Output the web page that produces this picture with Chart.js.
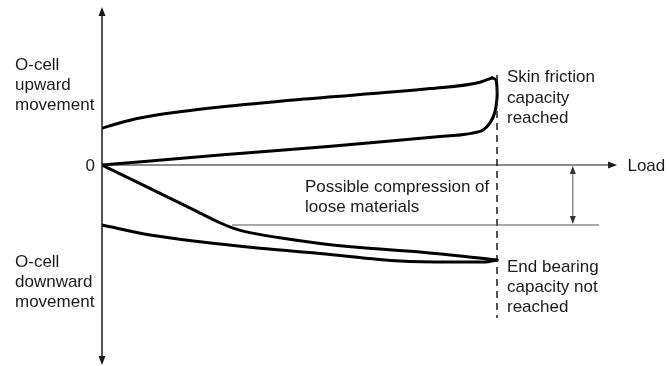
<!DOCTYPE html>
<html>
<head>
<meta charset="utf-8">
<script src="https://cdn.jsdelivr.net/npm/chart.js@4"></script>
<style>
  body { margin: 0; background: #fff; }
  canvas { display: block; }
</style>
</head>
<body>
<canvas id="chart" width="669" height="366"></canvas>
<script>
// Skin friction curve (load, upward movement)
// upper branch, the turn at capacity, and the branch back to the origin
const skinUpLoad = [0, 4.6, 9.6, 19.7, 29.9, 50, 83, 95.7, 98.7];
const skinUpMove = [9.2, 10.55, 11.75, 13.3, 14.5, 16.4, 19.1, 20.7, 21.8];
const skinTurnLoad = [98.7, 99.7, 100, 100, 99.4, 98.2, 96.5, 93.5, 90.6];
const skinTurnMove = [21.8, 21.3, 19, 16.75, 13, 10.5, 8.75, 7.9, 7.5];
const skinDownLoad = [0, 29.9, 58, 85.6, 90.6];
const skinDownMove = [0, 2.5, 4.7, 7.1, 7.5];

// End bearing curve with compression of loose materials
const compLoad = [0, 12, 24, 30, 33, 36, 45, 55.2, 65.3, 80.5, 100];
const compMove = [0, -5.8, -11.6, -14.5, -15.7, -16.6, -18.2, -19.6, -20.6, -21.75, -23.75];

// Lower end bearing curve
const endLoad = [0, 12.2, 24.8, 40, 55.2, 75.5, 88, 97, 100];
const endMove = [-15, -17.5, -19.2, -20.8, -22.1, -24, -24.25, -24.25, -23.75];

// Capacity line and compression marker
const capacityLoad = 100;
const compressionLevel = -15;

const toPoints = (xs, ys) => xs.map((x, i) => ({ x: x, y: ys[i] }));

const FONT = "17px 'Liberation Sans', Arial, sans-serif";
const INK = "#1a1a1a";

// Axes, arrows, dashed line and the texts
const annotations = {
  id: "annotations",
  afterDatasetsDraw(chart) {
    const { ctx, scales } = chart;
    const X = (v) => scales.x.getPixelForValue(v);
    const Y = (v) => scales.y.getPixelForValue(v);

    const arrowHead = (x, y, dir, len, half) => {
      ctx.beginPath();
      if (dir === "up") { ctx.moveTo(x, y); ctx.lineTo(x - half, y + len); ctx.lineTo(x + half, y + len); }
      if (dir === "down") { ctx.moveTo(x, y); ctx.lineTo(x - half, y - len); ctx.lineTo(x + half, y - len); }
      if (dir === "right") { ctx.moveTo(x, y); ctx.lineTo(x - len, y - half); ctx.lineTo(x - len, y + half); }
      ctx.closePath();
      ctx.fill();
    };

    ctx.save();
    ctx.strokeStyle = INK;
    ctx.fillStyle = INK;

    // vertical axis with arrows both ends
    ctx.lineWidth = 1.5;
    ctx.beginPath();
    ctx.moveTo(X(0), Y(39));
    ctx.lineTo(X(0), Y(-49.5));
    ctx.stroke();
    arrowHead(X(0), Y(39.5), "up", 9, 3.5);
    arrowHead(X(0), Y(-50), "down", 9, 3.5);

    // load axis
    ctx.lineWidth = 1.2;
    ctx.beginPath();
    ctx.moveTo(X(0), Y(0));
    ctx.lineTo(X(129.5), Y(0));
    ctx.stroke();
    arrowHead(X(130.4), Y(0), "right", 9, 3.5);

    // dashed capacity line
    ctx.lineWidth = 1.5;
    ctx.setLineDash([7, 5]);
    ctx.beginPath();
    ctx.moveTo(X(capacityLoad), Y(22.5));
    ctx.lineTo(X(capacityLoad), Y(-38.25));
    ctx.stroke();
    ctx.setLineDash([]);

    // compression level line and double arrow
    ctx.strokeStyle = "#555";
    ctx.fillStyle = "#333";
    ctx.lineWidth = 1;
    ctx.beginPath();
    ctx.moveTo(X(32.9), Y(compressionLevel));
    ctx.lineTo(X(125.8), Y(compressionLevel));
    ctx.stroke();
    ctx.beginPath();
    ctx.moveTo(X(119.2), Y(-1.5));
    ctx.lineTo(X(119.2), Y(compressionLevel + 1.5));
    ctx.stroke();
    arrowHead(X(119.2), Y(0) + 1, "up", 8, 3);
    arrowHead(X(119.2), Y(compressionLevel) - 1, "down", 8, 3);

    // texts
    ctx.fillStyle = INK;
    ctx.font = FONT;
    ctx.textAlign = "left";
    ctx.textBaseline = "alphabetic";
    const lines = (arr, x, y0, step) => arr.forEach((t, i) => ctx.fillText(t, x, y0 + i * step));
    lines(["O-cell", "upward", "movement"], 15, 70, 20);
    lines(["O-cell", "downward", "movement"], 15, 267, 20);
    lines(["Skin friction", "capacity", "reached"], X(capacityLoad) + 10, 82, 20.5);
    lines(["End bearing", "capacity not", "reached"], X(capacityLoad) + 10, 272, 20);
    lines(["Possible compression of", "loose materials"], 305, 192, 20);
    ctx.fillText("Load", X(131) + 8, Y(0) + 6);
    ctx.textAlign = "right";
    ctx.fillText("0", X(0) - 7, Y(0) + 6);
    ctx.restore();
  },
};

const curve = (pts, mode) => ({
  data: pts,
  showLine: true,
  borderColor: "#000",
  borderWidth: 3,
  borderCapStyle: "round",
  borderJoinStyle: "round",
  pointRadius: 0,
  tension: 0.4,
  cubicInterpolationMode: mode,
  fill: false,
});

new Chart(document.getElementById("chart"), {
  type: "scatter",
  data: {
    datasets: [
      curve(toPoints(skinUpLoad, skinUpMove), "monotone"),
      curve(toPoints(skinTurnLoad, skinTurnMove), "default"),
      curve(toPoints(skinDownLoad, skinDownMove), "monotone"),
      curve(toPoints(compLoad, compMove), "monotone"),
      curve(toPoints(endLoad, endMove), "monotone"),
    ],
  },
  options: {
    responsive: false,
    animation: false,
    devicePixelRatio: 1,
    layout: { padding: { left: 102, right: 14, top: 5, bottom: 1 } },
    scales: {
      x: { type: "linear", min: 0, max: 140, display: false },
      y: { type: "linear", min: -50, max: 40, display: false },
    },
    plugins: {
      legend: { display: false },
      tooltip: { enabled: false },
    },
  },
  plugins: [annotations],
});
</script>
</body>
</html>
